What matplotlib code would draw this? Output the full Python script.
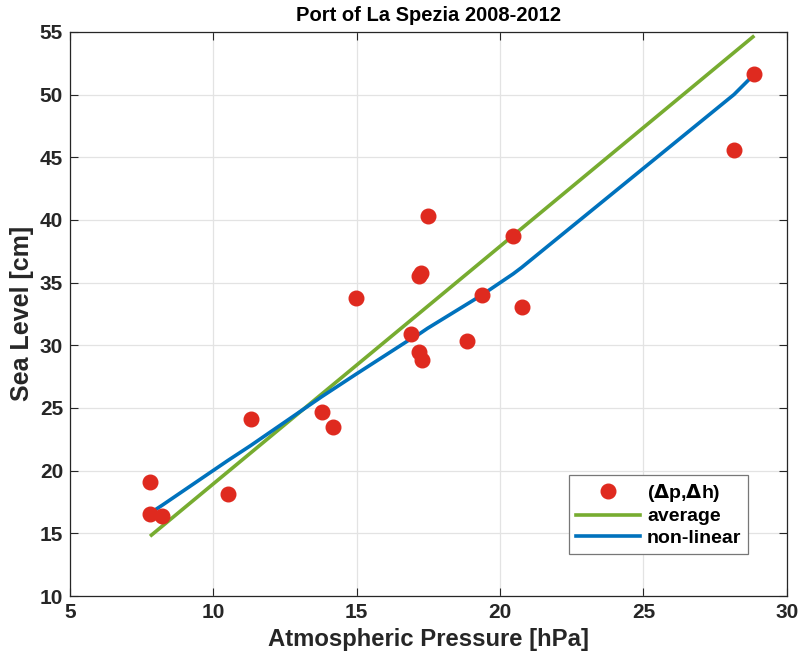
import numpy as np
import matplotlib
matplotlib.use('Agg')
import matplotlib.pyplot as plt

plt.rcParams['font.family'] = ['Liberation Sans', 'DejaVu Sans']
plt.rcParams['font.weight'] = 'bold'

# observed pairs (pressure anomaly, sea level anomaly)
dp = [7.80, 7.80, 8.22, 10.50, 11.30, 13.78, 14.18, 14.98, 16.88, 17.18, 17.28,
      17.17, 17.25, 17.47, 18.86, 19.36, 20.46, 20.75, 28.16, 28.86]
dh = [19.06, 16.53, 16.40, 18.13, 24.15, 24.68, 23.49, 33.76, 30.92, 29.46, 28.82,
      35.51, 35.78, 40.29, 30.34, 33.97, 38.70, 33.07, 45.60, 51.65]

# average (straight) model
avg_p = [7.84, 28.82]
avg_h = [14.86, 54.60]

# non-linear model
nl_p = [7.82, 8.22, 10.50, 11.30, 13.78, 14.18, 14.98, 16.88, 17.18, 17.47,
        18.86, 19.36, 20.46, 20.75, 28.16, 28.86]
nl_h = [16.65, 17.25, 20.80, 22.00, 25.90, 26.50, 27.70, 30.50, 30.90, 31.35,
        33.30, 34.00, 35.70, 36.20, 50.00, 51.60]

fig = plt.figure(figsize=(8.02, 6.63), dpi=100)
ax = fig.add_axes([0.0873, 0.101, 0.8937, 0.851])

ax.plot(dp, dh, 'o', color='#DF2A1F', markersize=10.5, label=r'($\Delta$p,$\Delta$h)', zorder=3)
ax.plot(avg_p, avg_h, '-', color='#77AC30', lw=2.6, label='average', zorder=2)
ax.plot(nl_p, nl_h, '-', color='#0072BD', lw=2.6, label='non-linear', zorder=2)

ax.set_xlim(5, 30)
ax.set_ylim(10, 55)
ax.set_xticks(np.arange(5, 31, 5))
ax.set_yticks(np.arange(10, 56, 5))
ax.grid(True, color='#E3E3E3', lw=0.9)
ax.set_axisbelow(True)
ax.tick_params(direction='in', top=True, right=True, labelsize=15, length=6,
               color='#262626', labelcolor='#262626', pad=5)
for lbl in ax.get_xticklabels() + ax.get_yticklabels():
    lbl.set_fontweight('bold')
for s in ax.spines.values():
    s.set_color('#262626')
    s.set_linewidth(0.9)

ax.set_xlabel('Atmospheric Pressure [hPa]', fontsize=17.2, fontweight='bold',
              color='#262626', labelpad=4)
ax.set_ylabel('Sea Level [cm]', fontsize=18, fontweight='bold', color='#262626',
              labelpad=4)
ax.set_title('Port of La Spezia 2008-2012', fontsize=14.5, fontweight='bold', pad=8)

leg = ax.legend(loc='lower right', bbox_to_anchor=(0.946, 0.075),
                prop={'weight': 'bold', 'size': 14}, fancybox=False, framealpha=1,
                edgecolor='#777777', handlelength=3.3, handletextpad=0.35,
                borderpad=0.35, labelspacing=0.2, borderaxespad=0)
leg.get_frame().set_linewidth(0.9)

plt.savefig('out.png', dpi=100)
